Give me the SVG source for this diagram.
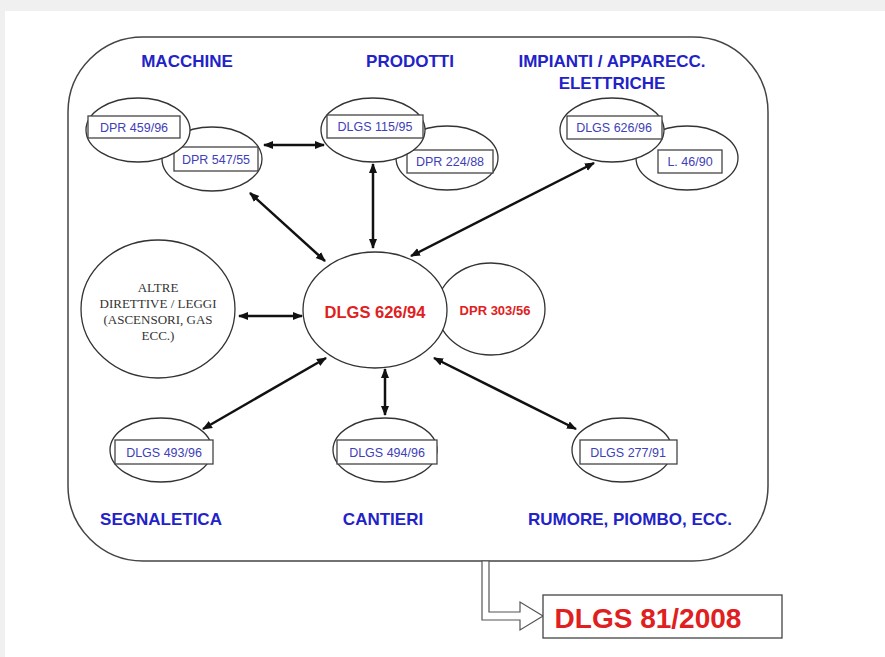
<svg xmlns="http://www.w3.org/2000/svg" width="885" height="657" viewBox="0 0 885 657">
<defs>
<marker id="ah" viewBox="0 0 10 10" refX="9" refY="5" markerWidth="4" markerHeight="4" orient="auto-start-reverse" markerUnits="strokeWidth">
<path d="M0,1 L10,5 L0,9 Z" fill="#111"/>
</marker>
<style>
.cat{font-family:"Liberation Sans",Arial,sans-serif;font-weight:bold;font-size:17px;fill:#2222c8;text-anchor:middle}
.ell{fill:#fff;stroke:#333;stroke-width:1.3}
.box{fill:#fff;stroke:#444;stroke-width:1.3}
.bt{font-family:"Liberation Sans",Arial,sans-serif;font-size:12.5px;fill:#4040b8;text-anchor:middle}
.red{font-family:"Liberation Sans",Arial,sans-serif;font-weight:bold;fill:#e02020;text-anchor:middle}
.ser{font-family:"Liberation Serif","Times New Roman",serif;font-size:13px;fill:#333;text-anchor:middle}
.con line{stroke:#111;stroke-width:2.5;marker-start:url(#ah);marker-end:url(#ah)}
</style>
</defs>
<rect x="0" y="0" width="885" height="657" fill="#f0f0f0"/>
<rect x="5" y="11" width="880" height="646" fill="#fff"/>
<rect id="frame" x="68" y="37" width="700" height="524" rx="75" ry="75" fill="#fff" stroke="#444" stroke-width="1.5"/>

<g id="labels">
<text class="cat" x="187" y="67">MACCHINE</text>
<text class="cat" x="410" y="67">PRODOTTI</text>
<text class="cat" x="612" y="67">IMPIANTI / APPARECC.</text>
<text class="cat" x="612" y="89">ELETTRICHE</text>
<text class="cat" x="161" y="525">SEGNALETICA</text>
<text class="cat" x="383" y="525">CANTIERI</text>
<text class="cat" x="630" y="525">RUMORE, PIOMBO, ECC.</text>
</g>

<g class="con" id="connectors">
<line x1="264" y1="145" x2="324" y2="145"/>
<line x1="250" y1="193" x2="325" y2="261"/>
<line x1="373" y1="164" x2="373" y2="248"/>
<line x1="594" y1="163" x2="411" y2="256"/>
<line x1="239" y1="316" x2="302" y2="316"/>
<line x1="326" y1="358" x2="203" y2="429"/>
<line x1="385" y1="369" x2="385" y2="415"/>
<line x1="434" y1="358" x2="576" y2="429"/>
</g>

<g id="n-dpr547">
<ellipse class="ell" cx="212" cy="159" rx="50" ry="32"/>
<rect class="box" x="174" y="147" width="84" height="24"/>
<text class="bt" x="216" y="164">DPR 547/55</text>
</g>
<g id="n-dpr459">
<ellipse class="ell" cx="138" cy="130" rx="52" ry="32"/>
<rect class="box" x="88" y="116" width="92" height="22"/>
<text class="bt" x="134" y="132">DPR 459/96</text>
</g>

<g id="n-dpr224">
<ellipse class="ell" cx="447" cy="158" rx="51" ry="32"/>
<rect class="box" x="407" y="150" width="86" height="23"/>
<text class="bt" x="450" y="166">DPR 224/88</text>
</g>
<g id="n-dlgs115">
<ellipse class="ell" cx="373" cy="130" rx="52" ry="32"/>
<rect class="box" x="327" y="115" width="96" height="23"/>
<text class="bt" x="375" y="131">DLGS 115/95</text>
</g>

<g id="n-l46">
<ellipse class="ell" cx="687" cy="158" rx="51" ry="32"/>
<rect class="box" x="658" y="150" width="64" height="23"/>
<text class="bt" x="690" y="166">L. 46/90</text>
</g>
<g id="n-dlgs626-96">
<ellipse class="ell" cx="612" cy="130" rx="52" ry="32"/>
<rect class="box" x="567" y="116" width="95" height="23"/>
<text class="bt" x="614" y="132">DLGS 626/96</text>
</g>

<g id="n-altre">
<ellipse class="ell" cx="158" cy="309" rx="77" ry="69"/>
<text class="ser" x="158" y="292">ALTRE</text>
<text class="ser" x="158" y="308">DIRETTIVE / LEGGI</text>
<text class="ser" x="158" y="324">(ASCENSORI, GAS</text>
<text class="ser" x="158" y="340">ECC.)</text>
</g>

<g id="n-dpr303">
<ellipse class="ell" cx="491" cy="309" rx="54" ry="46"/>
<text class="red" x="495" y="315" font-size="13">DPR 303/56</text>
</g>
<g id="n-dlgs626-94">
<ellipse class="ell" cx="375" cy="310" rx="72" ry="58"/>
<text class="red" x="375" y="318" font-size="16.5">DLGS 626/94</text>
</g>

<g id="n-dlgs493">
<ellipse class="ell" cx="161" cy="450" rx="51" ry="32"/>
<rect class="box" x="115" y="440" width="98" height="24"/>
<text class="bt" x="164" y="457">DLGS 493/96</text>
</g>
<g id="n-dlgs494">
<ellipse class="ell" cx="385" cy="450" rx="52" ry="32"/>
<rect class="box" x="337" y="440" width="100" height="24"/>
<text class="bt" x="387" y="457">DLGS 494/96</text>
</g>
<g id="n-dlgs277">
<ellipse class="ell" cx="622" cy="450" rx="50" ry="32"/>
<rect class="box" x="580" y="440" width="97" height="24"/>
<text class="bt" x="628" y="457">DLGS 277/91</text>
</g>

<g id="result-arrow">
<polygon points="482,561 482,620 520,620 520,630 543,616 520,602 520,612 489,612 489,561" fill="#fff" stroke="#555" stroke-width="1.2"/>
</g>
<g id="n-dlgs81">
<rect x="543" y="595" width="239" height="43" fill="#fff" stroke="#444" stroke-width="1.3"/>
<text class="red" x="648" y="628" font-size="28">DLGS 81/2008</text>
</g>
</svg>
